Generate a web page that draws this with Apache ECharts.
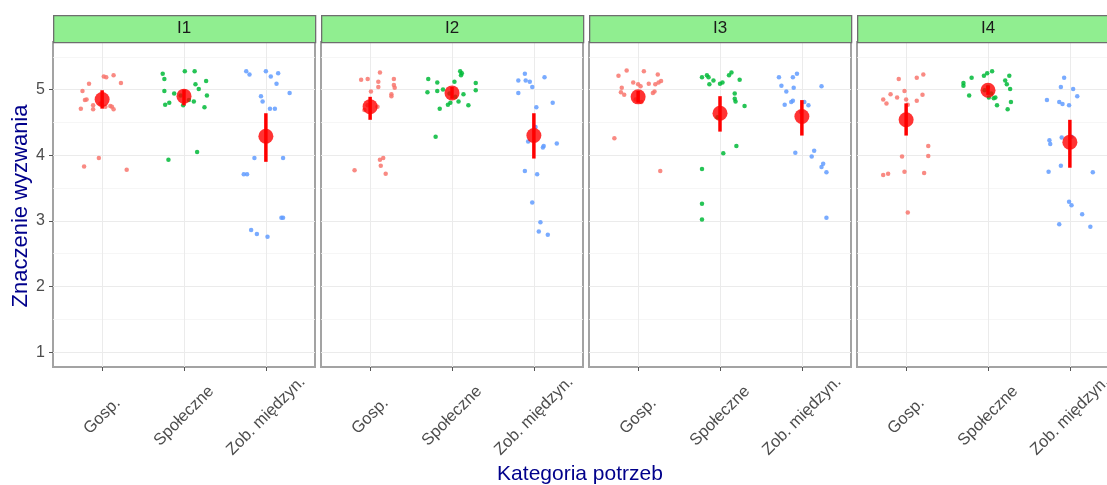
<!DOCTYPE html>
<html>
<head>
<meta charset="utf-8">
<script src="https://cdn.jsdelivr.net/npm/echarts@6/dist/echarts.min.js"></script>
<style>
html,body{margin:0;padding:0;background:#fff;}
#chart{width:1107px;height:485px;}
</style>
</head>
<body>
<div id="chart"></div>
<script>
// ---- data (jitter offset from category centre, value) ----
const categories = ['Gosp.', 'Społeczne', 'Zob. międzyn.'];
const panelNames = ['I1', 'I2', 'I3', 'I4'];
const yTicks = [1, 2, 3, 4, 5];
const yMinorTicks = [1.5, 2.5, 3.5, 4.5, 5.5];
const xTicks = [1, 2, 3];

const I1_gosp = [[0.02,5.20],[0.05,5.19],[0.14,5.22],[-0.16,5.09],[0.23,5.10],[-0.24,4.98],[-0.21,4.84],[-0.19,4.85],[-0.26,4.71],[-0.11,4.70],[-0.11,4.76],[0.10,4.75],[0.12,4.74],[0.14,4.70],[-0.04,3.96],[-0.22,3.83],[0.30,3.78],[-0.02,4.79],[0.04,4.74]];
const I1_spol = [[-0.26,5.24],[-0.24,5.16],[0.01,5.28],[0.13,5.28],[0.27,5.13],[0.14,5.08],[0.18,5.01],[-0.24,4.98],[-0.12,4.94],[0.28,4.91],[-0.23,4.77],[-0.18,4.80],[-0.01,4.76],[0.12,4.82],[0.25,4.73],[-0.19,3.93],[0.16,4.05],[-0.04,4.91],[0.06,4.84]];
const I1_zob = [[-0.24,5.28],[-0.20,5.23],[0.00,5.28],[0.06,5.20],[0.15,5.25],[0.13,5.09],[0.29,4.95],[-0.06,4.90],[-0.04,4.82],[0.05,4.71],[0.11,4.71],[-0.14,3.96],[0.21,3.96],[-0.27,3.71],[-0.23,3.71],[-0.18,2.86],[-0.11,2.80],[0.02,2.76],[0.19,3.05],[0.21,3.05]];

const I2_gosp = [[-0.11,5.15],[-0.03,5.16],[0.12,5.26],[0.10,5.12],[0.10,5.04],[0.29,5.16],[0.29,5.07],[0.30,5.03],[0.01,4.97],[0.26,4.93],[0.26,4.90],[0.09,4.74],[0.16,3.96],[0.12,3.93],[0.13,3.84],[0.19,3.72],[-0.19,3.77],[-0.03,4.76],[-0.07,4.69]];
const I2_spol = [[-0.29,5.16],[-0.18,5.11],[0.10,5.28],[0.12,5.25],[0.11,5.22],[0.03,5.12],[0.29,5.10],[0.29,4.99],[-0.30,4.96],[-0.18,4.98],[-0.11,5.00],[0.14,4.93],[0.08,4.82],[-0.05,4.77],[-0.02,4.80],[-0.15,4.71],[0.20,4.76],[-0.20,4.28],[-0.03,4.94],[0.04,4.89]];
const I2_zob = [[-0.11,5.24],[-0.19,5.14],[-0.10,5.14],[-0.05,5.12],[-0.02,5.04],[0.13,5.19],[-0.19,4.95],[0.23,4.80],[0.03,4.73],[-0.07,4.21],[0.12,4.14],[0.11,4.12],[0.28,4.18],[-0.11,3.76],[0.04,3.71],[-0.02,3.28],[0.08,2.98],[0.06,2.84],[0.17,2.79],[0.02,4.43]];

const I3_gosp = [[-0.24,5.21],[-0.14,5.29],[0.07,5.28],[0.24,5.23],[-0.06,5.11],[0.00,5.08],[0.13,5.09],[0.21,5.08],[0.25,5.11],[0.28,5.13],[-0.20,5.03],[-0.21,4.96],[-0.17,4.92],[0.20,4.97],[0.18,4.95],[0.03,5.05],[-0.29,4.26],[0.27,3.76],[-0.03,4.85],[0.04,4.81]];
const I3_spol = [[-0.22,5.19],[-0.16,5.22],[-0.14,5.19],[-0.08,5.14],[-0.13,5.08],[0.00,5.09],[0.03,5.11],[0.11,5.22],[0.14,5.26],[0.24,5.15],[0.18,4.94],[0.18,4.86],[0.19,4.82],[0.30,4.75],[0.20,4.14],[0.04,4.03],[-0.22,3.79],[-0.22,3.26],[-0.22,3.02],[-0.03,4.58]];
const I3_zob = [[-0.28,5.19],[-0.11,5.19],[-0.06,5.24],[-0.25,5.06],[-0.19,4.97],[-0.10,5.03],[0.24,5.05],[-0.21,4.77],[-0.13,4.81],[-0.11,4.83],[0.03,4.81],[0.08,4.76],[-0.08,4.04],[0.15,4.07],[0.12,3.98],[0.26,3.87],[0.24,3.82],[0.30,3.74],[0.30,3.05],[-0.01,4.66]];

const I4_gosp = [[-0.09,5.16],[0.13,5.18],[0.21,5.23],[-0.02,4.98],[-0.19,4.93],[-0.11,4.88],[0.20,4.92],[-0.28,4.85],[-0.24,4.79],[0.00,4.85],[0.02,4.77],[0.13,4.83],[0.27,4.14],[0.27,3.99],[-0.05,3.98],[-0.28,3.70],[-0.22,3.72],[-0.02,3.75],[0.22,3.73],[0.02,3.13]];
const I4_spol = [[-0.30,5.10],[-0.30,5.06],[-0.20,5.18],[-0.05,5.21],[-0.01,5.25],[0.05,5.28],[0.26,5.21],[0.21,5.14],[0.23,5.08],[0.27,5.01],[-0.23,4.91],[0.01,4.88],[0.07,4.87],[0.09,4.88],[0.11,4.76],[0.28,4.81],[0.24,4.70],[-0.04,4.99],[0.04,4.94],[0.00,5.04]];
const I4_zob = [[-0.07,5.18],[-0.11,5.04],[0.04,5.01],[0.09,4.90],[-0.28,4.84],[-0.13,4.81],[-0.09,4.78],[-0.01,4.76],[-0.25,4.23],[-0.24,4.17],[-0.10,4.27],[-0.11,3.84],[-0.26,3.75],[0.28,3.74],[-0.01,3.29],[0.02,3.24],[0.15,3.10],[-0.13,2.95],[0.25,2.91],[0.02,4.28]];

// means and interval ends per category (Gosp., Społeczne, Zob. międzyn.)
const I1_mean = [4.85, 4.90, 4.29], I1_lo = [4.71, 4.76, 3.90], I1_hi = [4.99, 5.00, 4.64];
const I2_mean = [4.74, 4.95, 4.30], I2_lo = [4.54, 4.86, 3.95], I2_hi = [4.89, 5.04, 4.64];
const I3_mean = [4.89, 4.64, 4.59], I3_lo = [4.80, 4.36, 4.30], I3_hi = [4.98, 4.90, 4.84];
const I4_mean = [4.54, 4.99, 4.20], I4_lo = [4.30, 4.92, 3.81], I4_hi = [4.79, 5.06, 4.54];

// ---- assembly ----
const pointsByPanel = [
  [I1_gosp, I1_spol, I1_zob],
  [I2_gosp, I2_spol, I2_zob],
  [I3_gosp, I3_spol, I3_zob],
  [I4_gosp, I4_spol, I4_zob]
];
const meansByPanel = [[I1_mean, I1_lo, I1_hi],[I2_mean, I2_lo, I2_hi],[I3_mean, I3_lo, I3_hi],[I4_mean, I4_lo, I4_hi]];
const colors = ['#F8766D', '#00BA38', '#619CFF'];
const FONT = '"Liberation Sans", Arial, sans-serif';

const PANEL_LEFT = 53, PANEL_STEP = 268, PANEL_W = 262, PANEL_TOP = 42, PANEL_H = 325;
const YMIN = 0.775, YMAX = 5.725;

const grids = [], xAxes = [], yAxes = [], series = [], graphics = [];
panelNames.forEach((name, i) => {
  const left = PANEL_LEFT + i * PANEL_STEP;
  grids.push({left: left, top: PANEL_TOP, width: PANEL_W, height: PANEL_H, show: true,
    outerBoundsMode: 'none', containLabel: false,
    backgroundColor: '#fff', borderColor: '#A3A3A3', borderWidth: 2});
  xAxes.push({gridIndex: i, type: 'value', min: 0.4, max: 3.6,
    axisLine: {show: false},
    axisTick: {show: true, customValues: xTicks, length: 4, lineStyle: {color: '#555'}},
    axisLabel: {customValues: xTicks, formatter: v => categories[Math.round(v) - 1],
      rotate: 45, align: 'center', verticalAlign: 'middle', margin: 49,
      fontSize: 16.5, color: '#4D4D4D', fontFamily: FONT},
    splitLine: {show: true, lineStyle: {color: '#EBEBEB', width: 1}}
  });
  yAxes.push({gridIndex: i, type: 'value', min: YMIN, max: YMAX,
    axisLine: {show: false},
    axisTick: {show: i === 0, customValues: yTicks, length: 4, lineStyle: {color: '#555'}},
    axisLabel: {show: i === 0, customValues: yTicks, fontSize: 16, color: '#4D4D4D', margin: 8, fontFamily: FONT},
    splitLine: {show: true, lineStyle: {color: '#EBEBEB', width: 1}}
  });
  yAxes.push({gridIndex: i, type: 'value', min: YMIN, max: YMAX, position: 'left',
    axisLine: {show: false},
    axisTick: {show: false, customValues: yMinorTicks},
    axisLabel: {show: false, customValues: yMinorTicks},
    splitLine: {show: true, lineStyle: {color: '#F4F4F4', width: 0.8}}
  });
  pointsByPanel[i].forEach((pts, c) => {
    series.push({type: 'scatter', xAxisIndex: i, yAxisIndex: 2 * i,
      symbolSize: 4.5, itemStyle: {color: colors[c], opacity: 0.85},
      silent: true, z: 2,
      data: pts.map(p => [c + 1 + p[0], p[1]])});
  });
  const [mean, lo, hi] = meansByPanel[i];
  series.push({type: 'custom', xAxisIndex: i, yAxisIndex: 2 * i, z: 3, silent: true,
    encode: {x: 0, y: [1, 2]},
    data: categories.map((_, c) => [c + 1, lo[c], hi[c]]),
    renderItem: (params, api) => {
      const p1 = api.coord([api.value(0), api.value(1)]);
      const p2 = api.coord([api.value(0), api.value(2)]);
      return {type: 'line', shape: {x1: p1[0], y1: p1[1], x2: p2[0], y2: p2[1]},
        style: {stroke: '#FF0000', lineWidth: 3.5}};
    }
  });
  series.push({type: 'scatter', xAxisIndex: i, yAxisIndex: 2 * i, z: 4, silent: true,
    symbolSize: 15, itemStyle: {color: '#FF0000'},
    data: categories.map((_, c) => [c + 1, mean[c]])});
  // facet strip
  graphics.push({type: 'rect', left: left, top: 15, shape: {width: PANEL_W, height: 27},
    style: {fill: '#90EE90', stroke: '#6E6E6E', lineWidth: 1.3}, z: 10});
  graphics.push({type: 'text', x: left + PANEL_W / 2, y: 28.5, z: 11,
    style: {text: name, fill: '#1A1A1A', font: '17px ' + FONT, textAlign: 'center', textVerticalAlign: 'middle'}});
});
graphics.push({type: 'text', x: 580, y: 474, z: 11,
  style: {text: 'Kategoria potrzeb', fill: '#00008B', font: '21px ' + FONT, textAlign: 'center', textVerticalAlign: 'middle'}});
graphics.push({type: 'text', x: 21, y: 206, rotation: Math.PI / 2, z: 11,
  style: {text: 'Znaczenie wyzwania', fill: '#00008B', font: '22px ' + FONT, textAlign: 'center', textVerticalAlign: 'middle'}});

const chart = echarts.init(document.getElementById('chart'), null, {renderer: 'canvas'});
chart.setOption({
  animation: false,
  backgroundColor: '#fff',
  grid: grids, xAxis: xAxes, yAxis: yAxes, series: series, graphic: graphics
});
</script>
</body>
</html>
